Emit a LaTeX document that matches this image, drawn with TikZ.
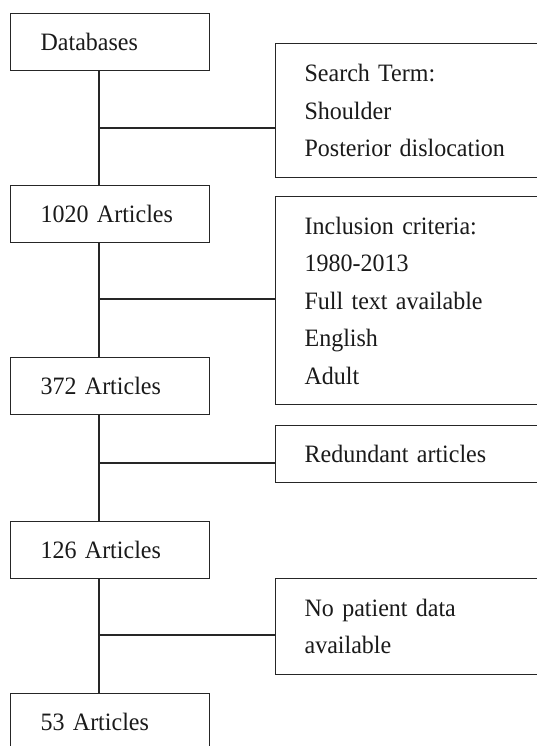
\documentclass[tikz,border=0pt]{standalone}
\usepackage{fontspec}
\setmainfont[FakeStretch=0.96,WordSpace=0.7]{Liberation Serif}
\definecolor{lc}{HTML}{262626}
\definecolor{tc}{HTML}{1A1A1A}
\begin{document}
\begin{tikzpicture}[x=1pt,y=-1pt,
  lbox/.style={draw=lc, line width=1.2pt, anchor=north west, minimum width=199pt,
    minimum height=57pt, text width=139pt, inner xsep=30pt, inner ysep=0pt, align=left,
    text=tc, font=\fontsize{25}{37.5}\selectfont},
  rbox/.style={draw=lc, line width=1.2pt, anchor=north west, text width=250pt,
    inner xsep=29pt, inner ysep=0pt, align=left, text=tc, font=\fontsize{25}{37.5}\selectfont},
  conn/.style={draw=lc, line width=1.2pt}]
\useasboundingbox (0,0) rectangle (537,746);
\clip (0,0) rectangle (537,746);
\fill[white] (0,0) rectangle (537,746);
% left column
\node[lbox] (db) at (10,13) {Databases};
\node[lbox] (a1020) at (10,185) {1020 Articles};
\node[lbox] (a372) at (10,357) {372 Articles};
\node[lbox] (a126) at (10,521) {126 Articles};
\node[lbox] (a53) at (10,693) {53 Articles};
% right column
\node[rbox, minimum height=134pt] (st) at (275,43) {Search Term:\\Shoulder\\Posterior dislocation};
\node[rbox, minimum height=208pt] (inc) at (275,196) {Inclusion criteria:\\1980-2013\\Full text available\\English\\Adult};
\node[rbox, minimum height=57pt] (red) at (275,425) {Redundant articles};
\node[rbox, minimum height=96pt] (np) at (275,578) {No patient data\\available};
% trunk branch points
\coordinate (t1) at (99,128);
\coordinate (t2) at (99,299);
\coordinate (t3) at (99,463);
\coordinate (t4) at (99,635);
% vertical connectors
\draw[conn] (db.south -| t1) -- (a1020.north -| t1);
\draw[conn] (a1020.south -| t2) -- (a372.north -| t2);
\draw[conn] (a372.south -| t3) -- (a126.north -| t3);
\draw[conn] (a126.south -| t4) -- (a53.north -| t4);
% horizontal connectors
\draw[conn] (t1) -- (t1 -| st.west);
\draw[conn] (t2) -- (t2 -| inc.west);
\draw[conn] (t3) -- (t3 -| red.west);
\draw[conn] (t4) -- (t4 -| np.west);
\end{tikzpicture}
\end{document}
